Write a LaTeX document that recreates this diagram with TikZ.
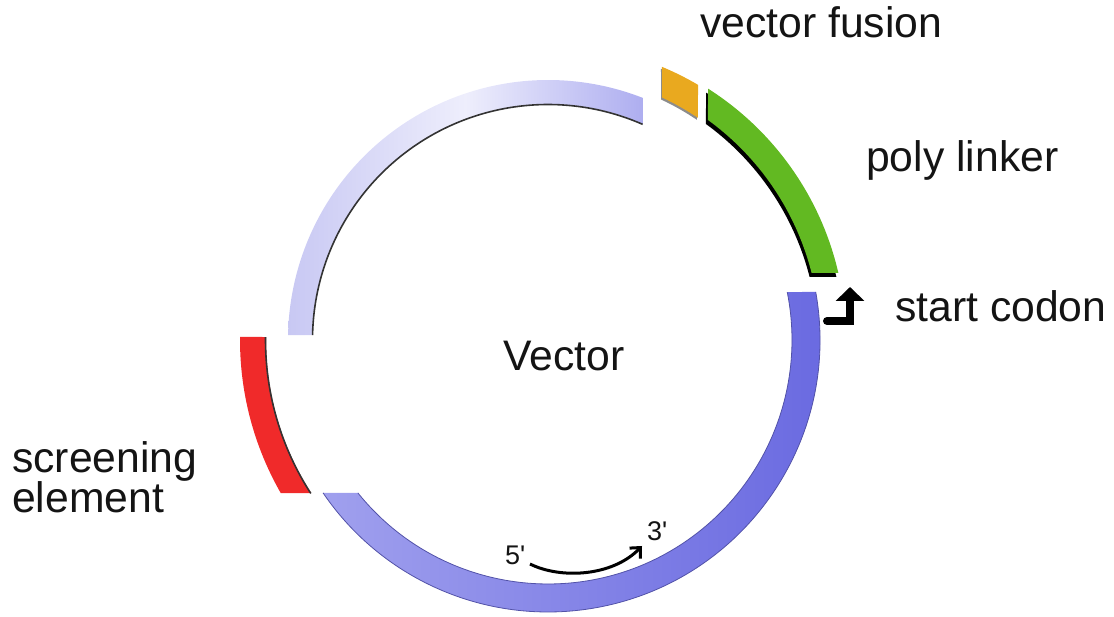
\documentclass[tikz,border=0pt]{standalone}
\usepackage{fontspec}
\setmainfont{Liberation Sans}
\usetikzlibrary{arrows.meta}
\definecolor{lavmid}{HTML}{EEEEFC}
\definecolor{lavleft}{HTML}{C8C8F3}
\definecolor{lavright}{HTML}{AEAEF0}
\definecolor{blueleft}{HTML}{A0A0EE}
\definecolor{blueright}{HTML}{6868E0}
\definecolor{blueedge}{HTML}{5252A8}
\definecolor{segred}{HTML}{F02A2A}
\definecolor{seggreen}{HTML}{62B922}
\definecolor{segorange}{HTML}{E9A91F}
\begin{document}
\begin{tikzpicture}[x=1pt,y=1pt,
  lbl/.style={anchor=base west, inner sep=0pt, text=black!92,
              font=\fontsize{42.7}{39}\selectfont},
  prime/.style={anchor=base west, inner sep=0pt, text=black!92,
                font=\fontsize{27}{30}\selectfont},
  rimline/.style={line width=1.6pt, black!80},
  softline/.style={line width=0.8pt, blueedge}]
\useasboundingbox (0,0) rectangle (1114,617);
\coordinate (C) at (548,277);

\begin{scope}[shift={(C)}]
  % pale upper arc of the vector
  \shade[left color=lavleft, right color=lavright, middle color=lavmid]
    (68.6:260) arc[start angle=68.6, end angle=178.9, radius=260]
    -- (178.8:236) arc[start angle=178.8, end angle=66.3, radius=236] -- cycle;
  \draw[rimline] (178.8:235.5) arc[start angle=178.8, end angle=66.3, radius=235.5];

  % lower blue arc of the vector
  \shade[left color=blueleft, right color=blueright]
    (10.2:272) arc[start angle=10.2, end angle=-145.8, radius=272]
    -- (-141.2:244) arc[start angle=-141.2, end angle=11.3, radius=244] -- cycle;
  \draw[softline] (10.2:272) arc[start angle=10.2, end angle=-145.8, radius=272];
  \draw[softline] (-141.2:244) arc[start angle=-141.2, end angle=11.3, radius=244];

  % screening element (red)
  \fill[segred]
    (179.4:308) arc[start angle=179.4, end angle=209.8, radius=308]
    -- (212.9:282) arc[start angle=212.9, end angle=179.4, radius=282] -- cycle;
  \draw[rimline] (212.9:282.5) arc[start angle=212.9, end angle=179.4, radius=282.5];

  % poly linker (green) with its dark rim
  \fill[black, shift={(-2,-4)}]
    (13.0:298) arc[start angle=13.0, end angle=57.5, radius=298]
    -- (54.0:272) arc[start angle=54.0, end angle=14.3, radius=272] -- cycle;
  \fill[seggreen]
    (13.0:298) arc[start angle=13.0, end angle=57.5, radius=298]
    -- (54.0:272) arc[start angle=54.0, end angle=14.3, radius=272] -- cycle;

  % vector fusion (orange)
  \fill[black!45, shift={(-1,-2)}]
    (59.55:296) arc[start angle=59.55, end angle=67.35, radius=296]
    -- (64.8:268) arc[start angle=64.8, end angle=55.97, radius=268] -- cycle;
  \fill[segorange]
    (59.55:296) arc[start angle=59.55, end angle=67.35, radius=296]
    -- (64.8:268) arc[start angle=64.8, end angle=55.97, radius=268] -- cycle;
\end{scope}

% labels
\node[lbl] (fusion) at (700,579) {vector fusion};
\node[lbl] (linker) at (866,445) {poly linker};
\node[lbl] (codon) at (895,295) {start codon};
\node[lbl] (vector) at (503,246) {Vector};
\node[lbl, align=left] (screen) at (12,104) {screening\\element};
\node[prime] (five) at (505,52) {5\textquotesingle};
\node[prime] (three) at (647,76) {3\textquotesingle};

% 5' to 3' direction arrow
\coordinate (dirA) at (530,53);
\coordinate (dirB) at (642,71);
\draw[line width=3pt, -{Straight Barb[length=8pt,width=15pt]}]
  (dirA) .. controls (560,38) and (612,40) .. (dirB);

% start codon bent arrow
\coordinate (sc1) at (827,296);
\coordinate (sc2) at (850,296);
\coordinate (sc3) at (850,330);
\draw[line width=8pt, line cap=round, -{Triangle[length=14pt,width=28pt]}]
  (sc1) -- (sc2) -- (sc3);
\end{tikzpicture}
\end{document}
